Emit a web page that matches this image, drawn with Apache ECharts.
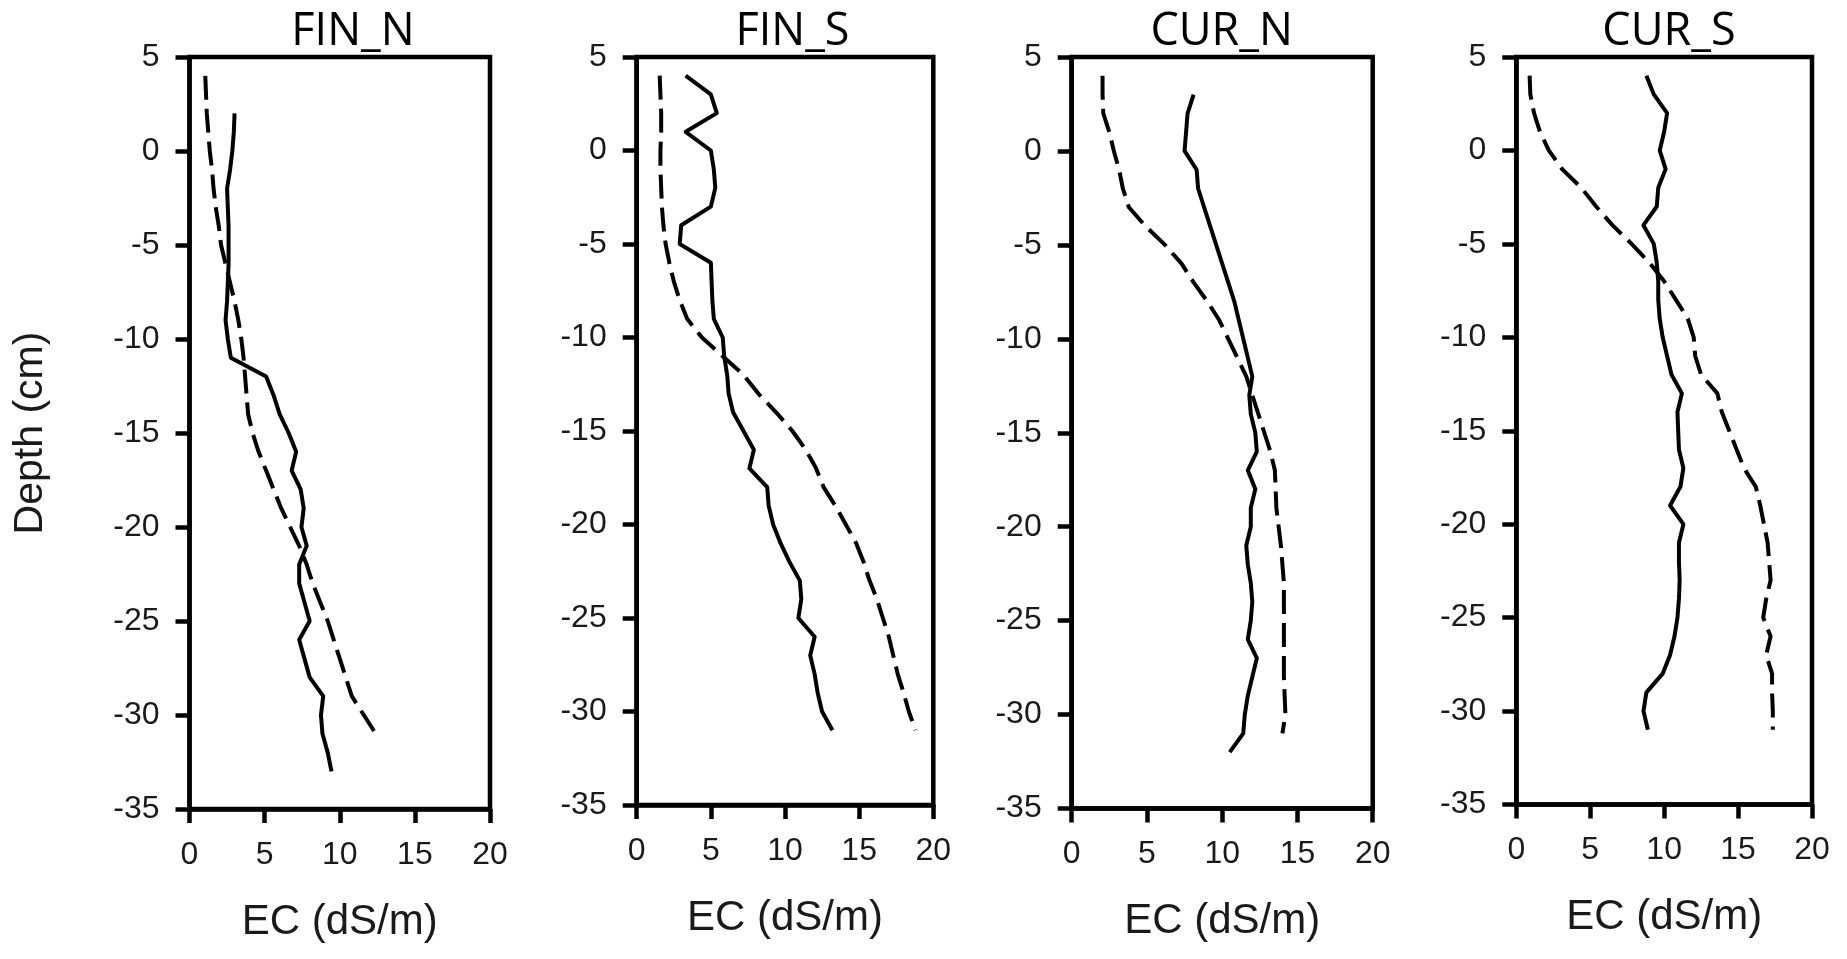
<!DOCTYPE html>
<html>
<head>
<meta charset="utf-8">
<script src="https://cdn.jsdelivr.net/npm/echarts@6/dist/echarts.min.js"></script>
<style>
html,body{margin:0;padding:0;background:#fff;}
#chart{width:1847px;height:959px;}
</style>
</head>
<body>
<div id="chart"></div>
<script>
// ---- Data ----
const panelTitles = ['FIN_N', 'FIN_S', 'CUR_N', 'CUR_S'];
const xTickLabels = ['0', '5', '10', '15', '20'];
const yTickLabels = ['5', '0', '-5', '-10', '-15', '-20', '-25', '-30', '-35'];

// FIN_N
const finN_solid_depth = [2,1,0,-1,-2,-3,-4,-5,-6,-7,-8,-9,-10,-11,-12,-13,-14,-15,-16,-17,-18,-19,-20,-21,-22,-23,-24,-25,-26,-27,-28,-29,-30,-31,-32,-33];
const finN_solid_ec    = [3.0,2.95,2.85,2.7,2.5,2.55,2.6,2.6,2.6,2.55,2.5,2.4,2.55,2.75,5.1,5.6,6.0,6.6,7.1,6.8,7.4,7.6,7.45,7.8,7.3,7.3,7.65,8.0,7.3,7.65,8.0,8.9,8.75,8.85,9.2,9.45];
const finN_dash_depth  = [4,3,2,1,0,-1,-2,-3,-4,-5,-6,-7,-8,-9,-10,-11,-12,-13,-14,-15,-16,-17,-18,-19,-20,-21,-22,-23,-24,-25,-26,-27,-28,-29,-30,-31];
const finN_dash_ec     = [1.05,1.1,1.15,1.25,1.35,1.5,1.6,1.75,1.95,2.1,2.4,2.7,3.0,3.25,3.45,3.6,3.7,3.8,3.9,4.2,4.6,5.1,5.6,6.1,6.7,7.3,7.8,8.2,8.7,9.2,9.6,10.0,10.4,10.8,11.6,12.4];

// FIN_S
const finS_solid_depth = [4,3,2,1,0,-1,-2,-3,-4,-5,-6,-7,-8,-9,-10,-11,-12,-13,-14,-15,-16,-17,-18,-19,-20,-21,-22,-23,-24,-25,-26,-27,-28,-29,-30,-31];
const finS_solid_ec    = [3.3,5.0,5.4,3.3,5.0,5.2,5.3,5.0,3.0,2.9,5.0,5.05,5.1,5.2,5.8,5.9,6.1,6.2,6.5,7.2,7.9,7.6,8.8,8.9,9.2,9.7,10.3,11.0,11.1,10.9,12.0,11.7,12.0,12.2,12.5,13.2];
const finS_dash_depth  = [4,3,2,1,0,-1,-2,-3,-4,-5,-6,-7,-8,-9,-10,-11,-12,-13,-14,-15,-16,-17,-18,-19,-20,-21,-22,-23,-24,-25,-26,-27,-28,-29,-30,-31];
const finS_dash_ec     = [1.55,1.6,1.65,1.65,1.6,1.6,1.65,1.7,1.8,1.95,2.2,2.5,2.9,3.4,4.4,5.8,7.2,8.2,9.4,10.5,11.4,12.1,12.6,13.4,14.1,14.8,15.3,15.7,16.2,16.6,17.0,17.3,17.6,18.0,18.35,18.8];

// CUR_N
const curN_solid_depth = [3,2,1,0,-1,-2,-3,-4,-5,-6,-7,-8,-9,-10,-11,-12,-13,-14,-15,-16,-17,-18,-19,-20,-21,-22,-23,-24,-25,-26,-27,-28,-29,-30,-31,-32];
const curN_solid_ec    = [8.1,7.7,7.6,7.5,8.3,8.4,8.8,9.2,9.6,10.0,10.4,10.8,11.1,11.4,11.7,12.0,11.8,11.9,12.2,12.3,11.7,12.2,11.9,11.9,11.6,11.7,11.9,12.0,11.9,11.7,12.3,12.0,11.7,11.5,11.4,10.5];
const curN_dash_depth  = [4,3,2,1,0,-1,-2,-3,-4,-5,-6,-7,-8,-9,-10,-11,-12,-13,-14,-15,-16,-17,-18,-19,-20,-21,-22,-23,-24,-25,-26,-27,-28,-29,-30,-31];
const curN_dash_ec     = [2.05,2.05,2.1,2.5,2.8,3.15,3.4,3.8,4.9,6.2,7.3,8.1,9.0,9.8,10.4,11.0,11.6,12.0,12.4,12.8,13.2,13.5,13.55,13.6,13.75,13.9,14.0,14.1,14.1,14.1,14.1,14.1,14.1,14.15,14.2,14.0];

// CUR_S
const curS_solid_depth = [4,3,2,1,0,-1,-2,-3,-4,-5,-6,-7,-8,-9,-10,-11,-12,-13,-14,-15,-16,-17,-18,-19,-20,-21,-22,-23,-24,-25,-26,-27,-28,-29,-30,-31];
const curS_solid_ec    = [8.8,9.3,10.2,10.0,9.7,10.1,9.6,9.5,8.6,9.3,9.5,9.6,9.6,9.7,9.9,10.2,10.5,11.2,10.9,10.95,11.0,11.3,11.1,10.4,11.3,11.0,11.0,11.05,11.0,10.9,10.7,10.4,9.9,8.8,8.6,8.9];
const curS_dash_depth  = [4,3,2,1,0,-1,-2,-3,-4,-5,-6,-7,-8,-9,-10,-11,-12,-13,-14,-15,-16,-17,-18,-19,-20,-21,-22,-23,-24,-25,-26,-27,-28,-29,-30,-31];
const curS_dash_ec     = [0.9,0.95,1.2,1.6,2.2,3.1,4.4,5.4,6.5,7.8,9.0,10.0,10.8,11.6,12.0,12.1,12.5,13.6,13.9,14.4,14.9,15.4,16.2,16.5,16.75,17.0,17.1,17.2,16.9,16.7,17.2,16.9,17.3,17.3,17.35,17.35];

const xAxisName = 'EC (dS/m)';
const yAxisName = 'Depth (cm)';

// ---- Layout ----
const grids = [
  {left: 189.5, top: 57, width: 300.5, height: 752},
  {left: 636.7, top: 57, width: 296.6, height: 748},
  {left: 1071.7, top: 57, width: 301, height: 751.5},
  {left: 1516.3, top: 57, width: 295.7, height: 747.5}
];
const titleCenters = [348, 787.5, 1216.7, 1664];

const solidSets = [
  [finN_solid_ec, finN_solid_depth],
  [finS_solid_ec, finS_solid_depth],
  [curN_solid_ec, curN_solid_depth],
  [curS_solid_ec, curS_solid_depth]
];
const dashSets = [
  [finN_dash_ec, finN_dash_depth],
  [finS_dash_ec, finS_dash_depth],
  [curN_dash_ec, curN_dash_depth],
  [curS_dash_ec, curS_dash_depth]
];
const pairs = (xs, ys) => xs.map((v, i) => [v, ys[i]]);

const labelFont = {fontFamily: 'Liberation Sans', fontSize: 32, color: '#1a1a1a'};
const FW = 4.5;  // frame / axis width
const LW = 4;    // data line width

const option = {
  backgroundColor: '#ffffff',
  animation: false,
  title: panelTitles.map((t, i) => ({
    text: t,
    left: titleCenters[i],
    top: 2,
    textAlign: 'center',
    textStyle: {fontFamily: 'Open Sans', fontSize: 45, fontWeight: 'normal', color: '#000', lineHeight: 50}
  })),
  grid: grids.map(g => Object.assign({show: true, borderColor: '#000', borderWidth: FW, backgroundColor: 'transparent'}, g)),
  xAxis: grids.map((g, i) => ({
    type: 'value', gridIndex: i, min: 0, max: 20, interval: 5,
    name: xAxisName, nameLocation: 'middle', nameGap: 92,
    nameTextStyle: {fontFamily: 'Liberation Sans', fontSize: 42, color: '#1a1a1a'},
    axisLine: {show: true, onZero: false, lineStyle: {color: '#000', width: FW}},
    axisTick: {show: true, inside: false, length: 14, lineStyle: {color: '#000', width: FW}},
    axisLabel: Object.assign({margin: 30, formatter: v => xTickLabels[Math.round(v / 5)]}, labelFont),
    splitLine: {show: false}
  })),
  yAxis: grids.map((g, i) => ({
    type: 'value', gridIndex: i, min: -35, max: 5, interval: 5,
    name: i === 0 ? yAxisName : '', nameLocation: 'middle', nameGap: 138, nameRotate: 90,
    nameTextStyle: {fontFamily: 'Liberation Sans', fontSize: 41, color: '#1a1a1a'},
    axisLine: {show: true, onZero: false, lineStyle: {color: '#000', width: FW}},
    axisTick: {show: true, inside: false, length: 14, lineStyle: {color: '#000', width: FW}},
    axisLabel: Object.assign({margin: 30, formatter: v => yTickLabels[Math.round((5 - v) / 5)]}, labelFont),
    splitLine: {show: false}
  })),
  series: [].concat(
    solidSets.map((s, i) => ({
      type: 'line', xAxisIndex: i, yAxisIndex: i, data: pairs(s[0], s[1]),
      showSymbol: false, symbol: 'none', smooth: false,
      lineStyle: {color: '#000', width: LW, type: 'solid', join: 'round'}
    })),
    dashSets.map((s, i) => ({
      type: 'line', xAxisIndex: i, yAxisIndex: i, data: pairs(s[0], s[1]),
      showSymbol: false, symbol: 'none', smooth: false,
      lineStyle: {color: '#000', width: LW, type: [24, 9], join: 'round'}
    }))
  )
};

const chart = echarts.init(document.getElementById('chart'), null, {renderer: 'canvas'});
chart.setOption(option);
</script>
</body>
</html>
